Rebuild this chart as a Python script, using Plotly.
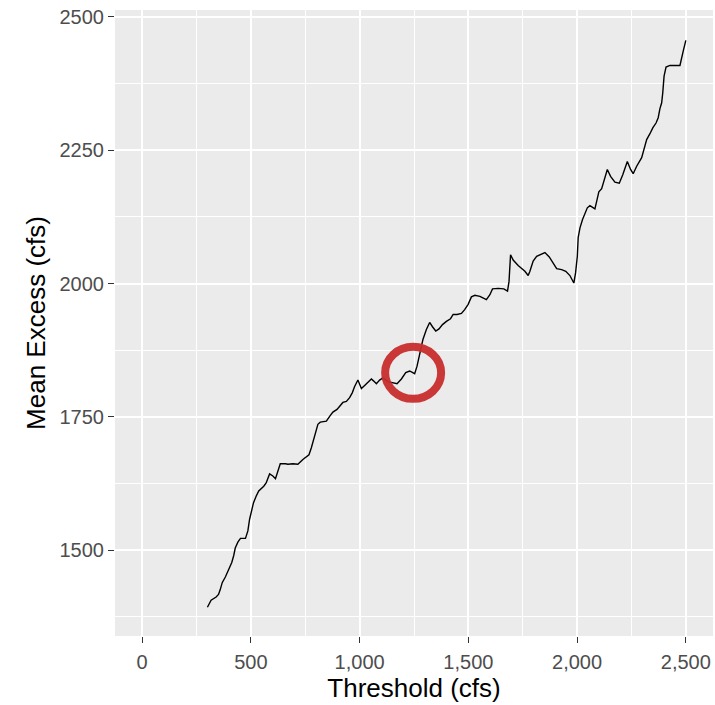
import numpy as np
import plotly.graph_objects as go

# ---- data ----
threshold = [
    300, 317, 340, 351, 359, 368, 383, 398, 412, 421, 428, 440, 452, 475, 486, 494, 501, 512, 524, 536,
    559, 570, 586, 601, 613, 624, 635, 659, 670, 693, 716, 739,
    767, 778, 788, 797, 808, 819, 847, 862, 877, 896, 911, 923, 939, 954, 966, 977, 992, 1008, 1023, 1038,
    1054, 1065, 1077, 1092, 1107, 1130, 1153, 1172, 1192, 1212, 1230, 1253, 1264, 1273, 1284,
    1291, 1307, 1322, 1335, 1350, 1365, 1381, 1399, 1418, 1430, 1448, 1468, 1483, 1499, 1514, 1530, 1553,
    1583, 1599, 1611, 1637, 1663, 1680, 1687, 1694, 1706, 1729, 1760, 1775,
    1783, 1798, 1814, 1837, 1852, 1872, 1890, 1906, 1929, 1948, 1967, 1985, 1993, 2001, 2005, 2013, 2025,
    2036, 2047, 2059, 2074, 2082, 2090, 2100, 2113, 2123, 2139, 2154, 2174, 2194, 2210, 2231, 2246, 2258,
    2274, 2297, 2308, 2320, 2335, 2348, 2363, 2373, 2381, 2389, 2394, 2400, 2409, 2427, 2473, 2481, 2488, 2500,
]
mean_excess = [
    1393, 1406, 1412, 1417, 1426, 1439, 1450, 1464, 1477, 1490, 1504, 1515, 1522, 1522, 1536, 1558, 1570, 1589, 1601, 1611,
    1620, 1626, 1643, 1639, 1634, 1648, 1662, 1662, 1661, 1662, 1661, 1670,
    1679, 1692, 1708, 1723, 1736, 1740, 1742, 1751, 1759, 1764, 1772, 1777, 1779, 1786, 1795, 1807, 1819, 1803, 1809, 1815,
    1821, 1817, 1812, 1819, 1823, 1816, 1814, 1812, 1821, 1833, 1836, 1831, 1845, 1864, 1882,
    1895, 1914, 1927, 1919, 1911, 1915, 1923, 1929, 1934, 1942, 1942, 1944, 1951, 1961, 1975, 1978, 1976,
    1970, 1979, 1990, 1991, 1990, 1986, 2004, 2054, 2044, 2034, 2023, 2015,
    2023, 2042, 2051, 2056, 2058, 2050, 2039, 2028, 2026, 2023, 2015, 2001, 2020, 2051, 2086, 2104, 2120,
    2133, 2142, 2146, 2142, 2140, 2154, 2172, 2178, 2192, 2214, 2201, 2190, 2188, 2204, 2229, 2214, 2206,
    2220, 2236, 2254, 2270, 2281, 2292, 2301, 2311, 2328, 2339, 2358, 2389, 2406, 2409, 2409, 2426, 2436, 2456,
]
x_ticks = [0, 500, 1000, 1500, 2000, 2500]
y_ticks = [1500, 1750, 2000, 2250, 2500]
highlight_threshold = 1246

# ---- figure ----
highlight_y = float(np.interp(highlight_threshold, threshold, mean_excess))

fig = go.Figure()
fig.add_trace(go.Scatter(
    x=threshold, y=mean_excess, mode="lines",
    line=dict(color="black", width=1.4),
    hoverinfo="x+y", showlegend=False,
))

fig.add_shape(
    type="circle", xref="x", yref="y",
    xsizemode="pixel", ysizemode="pixel",
    xanchor=highlight_threshold, yanchor=highlight_y,
    x0=-28, x1=28, y0=-26, y1=26,
    line=dict(color="rgba(200,45,45,0.95)", width=8),
    layer="above",
)

axis_common = dict(
    showline=False, zeroline=False, automargin=False,
    showgrid=True, gridcolor="white", gridwidth=2,
    ticks="outside", ticklen=6, tickwidth=1.3, tickcolor="#333333",
    tickfont=dict(family="Liberation Sans, Arial, sans-serif", size=20, color="#4D4D4D"),
)

fig.update_layout(
    width=715, height=705,
    margin=dict(l=115, r=2, t=10, b=69, autoexpand=False),
    paper_bgcolor="white", plot_bgcolor="#EBEBEB",
    font=dict(family="Liberation Sans, Arial, sans-serif"),
    xaxis=dict(
        **axis_common,
        range=[-125, 2625],
        tickvals=x_ticks, tickformat=",",
        ticklabelstandoff=2,
        minor=dict(dtick=250, tick0=0, showgrid=True, gridcolor="white", gridwidth=1, ticks=""),
        title=dict(text="Threshold (cfs)", font=dict(size=26, color="black"), standoff=5),
    ),
    yaxis=dict(
        **axis_common,
        range=[1339, 2513],
        tickvals=y_ticks,
        ticklabelstandoff=0,
        minor=dict(dtick=125, tick0=1500, showgrid=True, gridcolor="white", gridwidth=1, ticks=""),
        title=dict(text="Mean Excess (cfs)", font=dict(size=26, color="black"), standoff=6),
    ),
)

fig.write_html(
    "out.html",
    config={"displayModeBar": False},
    post_script="document.body.style.margin='0';document.body.style.overflow='hidden';",
)
